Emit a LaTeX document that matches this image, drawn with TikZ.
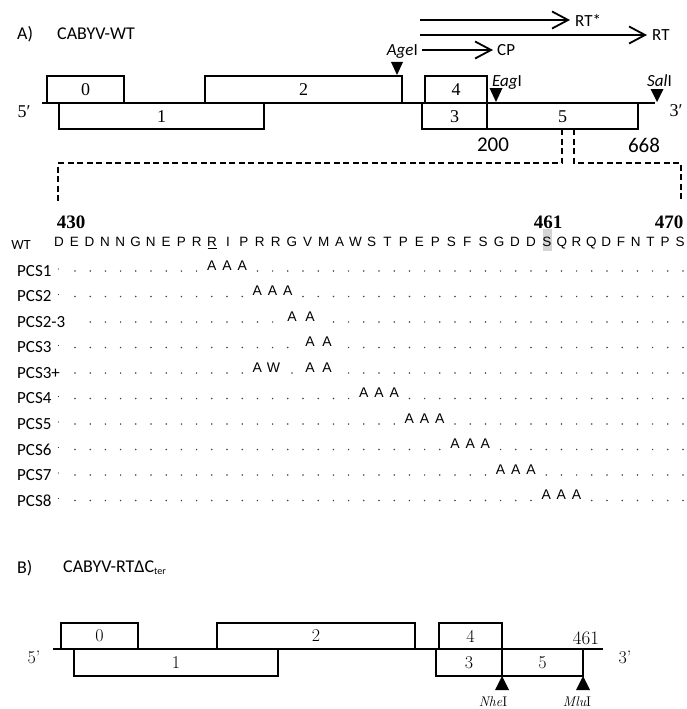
\documentclass[tikz,border=0pt]{standalone}
\usepackage{fontspec}
\usetikzlibrary{arrows.meta}
\newfontfamily\carl{Carlito}
\newfontfamily\ari{Liberation Sans}
\newfontfamily\tms{Liberation Serif}
\newcommand\setfs[1]{\fontsize{#1}{#1}\selectfont}
\begin{document}
\begin{tikzpicture}[x=1pt,y=-1pt,
  bx/.style={draw,line width=1.8pt},
  gl/.style={line width=1.8pt},
  arr/.style={line width=1.8pt,-{Straight Barb[length=16pt,width=17pt]}},
  dsh/.style={line width=1.8pt,dash pattern=on 6pt off 3.5pt},
  ttl/.style={font=\carl\setfs{18},inner sep=0pt,anchor=west},
  ann/.style={font=\carl\setfs{17},inner sep=0pt},
  numA/.style={font=\tms\setfs{18},inner sep=0pt},
  posl/.style={font=\carl\setfs{21},inner sep=0pt},
  idxl/.style={font=\tms\bfseries\setfs{19},inner sep=0pt},
  seq/.style={font=\ari\setfs{13.5},inner sep=0pt,anchor=base},
  alet/.style={font=\ari\setfs{14},inner sep=0pt,anchor=base},
  pcs/.style={font=\carl\setfs{17},inner sep=0pt,anchor=west},
  numB/.style={font=\rmfamily\setfs{18},inner sep=0pt},
  dotc/.style={fill=black!75}
]
\useasboundingbox (0,0) rectangle (686,709);

% ---------------- Panel A ----------------
\node[ttl] (tA) at (17,34) {A)};
\node[ttl] (tAn) at (57,34) {CABYV-WT};

\coordinate (rtsS) at (420,20); \coordinate (rtsE) at (570,20);
\coordinate (rtS) at (420,35);  \coordinate (rtE) at (647,35);
\coordinate (cpS) at (422,50);  \coordinate (cpE) at (493,50);
\draw[arr] (rtsS) -- (rtsE);
\draw[arr] (rtS) -- (rtE);
\draw[arr] (cpS) -- (cpE);
\node[ann,anchor=west] (lrts) at (575,20) {RT*};
\node[ann,anchor=west] (lrt) at (652,35) {RT};
\node[ann,anchor=west] (lcp) at (497,50) {CP};
\node[ann,anchor=base east] (lage) at (418,56) {\itshape Age\upshape I};
\node[ann,anchor=base west] (leag) at (492,86) {\itshape Eag\upshape I};
\node[ann,anchor=base west] (lsal) at (647,86) {\itshape Sal\upshape I};

% restriction triangles
\fill (391,62) -- (403,62) -- (397,75) -- cycle;
\fill (489.5,88) -- (502.5,88) -- (496,102) -- cycle;
\fill (650.5,89) -- (663.5,89) -- (657,102) -- cycle;

% genome line and ORF boxes
\coordinate (gA1) at (42,103); \coordinate (gA2) at (655,103);
\draw[gl] (gA1) -- (gA2);
\draw[bx] (47,76) rectangle (124,103);
\draw[bx] (205,76) rectangle (402,103);
\draw[bx] (425,76) rectangle (487,103);
\draw[bx] (59,103) rectangle (264,129);
\draw[bx] (422,103) rectangle (487,129);
\draw[bx] (487,103) rectangle (638,129);
\node[numA] (a0) at (85.5,90) {0};
\node[numA] (a2) at (303.5,90) {2};
\node[numA] (a4) at (456,90) {4};
\node[numA] (a1) at (161.5,116.5) {1};
\node[numA] (a3) at (454.5,116.5) {3};
\node[numA] (a5) at (562.5,116.5) {5};
\node[numA] (p5A) at (24,112) {5′};
\node[numA] (p3A) at (676,111) {3′};
\node[posl] (n200) at (493,145) {200};
\node[posl] (n668) at (644,145) {668};

% dashed zoom lines
\coordinate (dl0) at (562,129); \coordinate (dl1) at (562,163);
\coordinate (dl2) at (58,163);  \coordinate (dl3) at (58,201);
\coordinate (dr0) at (574,129); \coordinate (dr1) at (574,163);
\coordinate (dr2) at (681,163); \coordinate (dr3) at (681,201);
\draw[dsh] (dl0) -- (dl1) -- (dl2) -- (dl3);
\draw[dsh] (dr0) -- (dr1) -- (dr2) -- (dr3);

% position numbers
\node[idxl] (i430) at (71,222) {430};
\node[idxl] (i461) at (548,222) {461};
\node[idxl] (i470) at (669,222) {470};

% WT sequence
\fill[black!17] (542.5,229) rectangle (552,251);
\node[font=\carl\setfs{14},inner sep=0pt] (wt) at (21,245) {WT};
\foreach \c [count=\idx from 0] in {D,E,D,N,N,G,N,E,P,R,R,I,P,R,R,G,V,M,A,W,S,T,P,E,P,S,F,S,G,D,D,S,Q,R,Q,D,F,N,T,P,S}{
  \pgfmathsetmacro\xx{\idx<=10 ? 59+15.3*\idx : (\idx<=31 ? 212+15.95*(\idx-10) : 547+14.78*(\idx-31))}
  \node[seq] at (\xx,246) {\c};
}
\draw[line width=0.8pt] (207.5,248.5) -- (216.5,248.5);

% PCS rows
\newcommand\dotrow[2]{\foreach \idx in {#2}{\fill[dotc] ({75+15.2*\idx},#1) circle (0.85);}}
\newcommand\pcslabel[3]{\node[pcs] (#3) at (17,#1) {#2};\fill[dotc] (58.5,#1-2) circle (0.6);}

% PCS1
\pcslabel{271}{PCS1}{r1}
\dotrow{271}{0,...,8,12,13,...,40}
\foreach \x in {211.8,227,242.2}{\node[alet] at (\x,270) {A};}
% PCS2
\pcslabel{296.5}{PCS2}{r2}
\dotrow{296.5}{0,...,11,15,16,...,40}
\foreach \x in {257.4,272.6,287.8}{\node[alet] at (\x,295.5) {A};}
% PCS2-3
\node[pcs] (r23) at (17,322) {PCS2-3};
\dotrow{322}{1,2,...,13,17,18,...,40}
\foreach \x in {292,310}{\node[alet] at (\x,321) {A};}
% PCS3
\pcslabel{347.5}{PCS3}{r3}
\dotrow{347.5}{0,...,14,18,19,...,40}
\foreach \x in {310,327}{\node[alet] at (\x,346.5) {A};}
% PCS3+
\node[pcs] (r3p) at (17,373) {PCS3+};
\dotrow{373}{0,...,11,18,19,...,40}
\node[alet] at (257.4,372) {A};
\node[alet] at (273.5,372) {W};
\fill[dotc] (292,373) circle (0.85);
\node[alet] at (310,372) {A};
\node[alet] at (327,372) {A};
% PCS4
\pcslabel{398.5}{PCS4}{r4}
\dotrow{398.5}{0,...,18,22,23,...,40}
\foreach \x in {363.8,379,394.2}{\node[alet] at (\x,397.5) {A};}
% PCS5
\pcslabel{424}{PCS5}{r5}
\dotrow{424}{0,...,21,25,26,...,40}
\foreach \x in {409.4,424.6,439.8}{\node[alet] at (\x,423) {A};}
% PCS6
\pcslabel{449.5}{PCS6}{r6}
\dotrow{449.5}{0,...,24,28,29,...,40}
\foreach \x in {455,470.2,485.4}{\node[alet] at (\x,448.5) {A};}
% PCS7
\pcslabel{475}{PCS7}{r7}
\dotrow{475}{0,...,27,31,32,...,40}
\foreach \x in {500.6,515.8,531}{\node[alet] at (\x,474) {A};}
% PCS8
\pcslabel{500.5}{PCS8}{r8}
\dotrow{500.5}{0,...,30,34,35,...,40}
\foreach \x in {546.2,561.4,576.6}{\node[alet] at (\x,499.5) {A};}

% ---------------- Panel B ----------------
\node[ttl] (tB) at (17,568) {B)};
\node[ttl] (tBn) at (63,568) {CABYV-RTΔC\raisebox{-2pt}{\setfs{10}ter}};

\coordinate (gB1) at (53,649); \coordinate (gB2) at (603,649);
\draw[gl] (gB1) -- (gB2);
\draw[bx] (61,623) rectangle (138,649);
\draw[bx] (217,623) rectangle (415,649);
\draw[bx] (439,623) rectangle (502,649);
\draw[bx] (74,649) rectangle (278,676);
\draw[bx] (436,649) rectangle (502,676);
\draw[bx] (502,649) rectangle (583,676);
\node[numB] (b0) at (99.5,636) {0};
\node[numB] (b2) at (316,636) {2};
\node[numB] (b4) at (470.5,636) {4};
\node[numB] (b1) at (176,662.5) {1};
\node[numB] (b3) at (469,662.5) {3};
\node[numB] (b5) at (542.5,662.5) {5};
\node[numB] (p5B) at (34,657) {5’};
\node[numB] (p3B) at (625,657) {3’};
\node[font=\rmfamily\setfs{19},inner sep=0pt] (b461) at (586,638) {461};
\fill (502,676) -- (495,690) -- (509,690) -- cycle;
\fill (583,676) -- (576,690) -- (590,690) -- cycle;
\node[font=\rmfamily\setfs{14},inner sep=0pt] (nhe) at (493,702) {\itshape Nhe\upshape I};
\node[font=\rmfamily\setfs{14},inner sep=0pt] (mlu) at (577,702) {\itshape Mlu\upshape I};
\end{tikzpicture}
\end{document}
